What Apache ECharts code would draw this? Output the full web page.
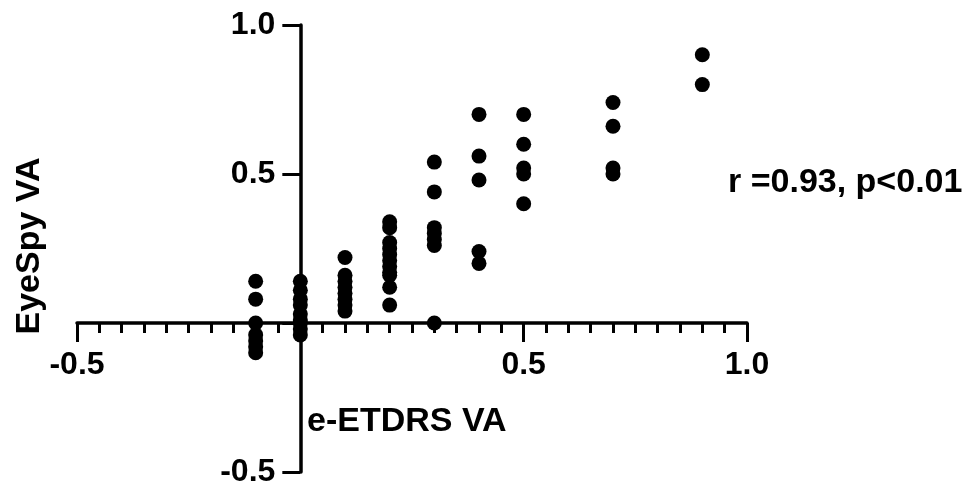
<!DOCTYPE html>
<html>
<head>
<meta charset="utf-8">
<script src="https://cdn.jsdelivr.net/npm/echarts@6/dist/echarts.min.js"></script>
<style>
html,body{margin:0;padding:0;background:#fff;}
#chart{width:972px;height:489px;}
</style>
</head>
<body>
<div id="chart"></div>
<script>
// e-ETDRS VA levels (x) and the EyeSpy VA values (y) observed at each level
var etdrsLevels = [-0.1, 0, 0.1, 0.2, 0.3, 0.4, 0.5, 0.7, 0.9];
var eyespyAtM01 = [0.14, 0.08, 0.0, -0.04, -0.06, -0.08, -0.10];
var eyespyAt00  = [0.14, 0.11, 0.08, 0.06, 0.03, 0.01, 0.0, -0.02, -0.04];
var eyespyAt01  = [0.22, 0.16, 0.14, 0.12, 0.10, 0.08, 0.06, 0.04];
var eyespyAt02  = [0.34, 0.32, 0.27, 0.25, 0.23, 0.21, 0.19, 0.17, 0.16, 0.12, 0.06];
var eyespyAt03  = [0.54, 0.44, 0.32, 0.30, 0.28, 0.26, 0.0];
var eyespyAt04  = [0.70, 0.56, 0.48, 0.24, 0.20];
var eyespyAt05  = [0.70, 0.60, 0.52, 0.50, 0.40];
var eyespyAt07  = [0.74, 0.66, 0.52, 0.50];
var eyespyAt09  = [0.90, 0.80];
var eyespyGroups = [eyespyAtM01, eyespyAt00, eyespyAt01, eyespyAt02, eyespyAt03, eyespyAt04, eyespyAt05, eyespyAt07, eyespyAt09];

var axisMin = -0.5, axisMax = 1.0, axisStep = 0.5;
var xAxisLabelText = 'e-ETDRS VA';
var yAxisLabelText = 'EyeSpy VA';
var statText = 'r =0.93, p<0.01';

var points = [];
etdrsLevels.forEach(function (x, i) {
  eyespyGroups[i].forEach(function (y) { points.push([x, y]); });
});

var FONT = "'Liberation Sans', Arial, Helvetica, sans-serif";
function tickFmt(v) {
  if (Math.abs(v) < 1e-9) return '';
  return v.toFixed(1);
}

var W = 972, H = 489;
var G = {left: 77, right: 225, top: 25, bottom: 17};
var gridW = W - G.left - G.right, gridH = H - G.top - G.bottom;
// shift the axes so they cross at zero (labels then follow the axis line)
var zeroFrac = (0 - axisMin) / (axisMax - axisMin);
var yAxisOffset = -zeroFrac * gridW;
var xAxisOffset = -zeroFrac * gridH;

var chart = echarts.init(document.getElementById('chart'), null, {renderer: 'canvas'});
chart.setOption({
  animation: false,
  backgroundColor: '#ffffff',
  grid: {left: G.left, right: G.right, top: G.top, bottom: G.bottom, containLabel: false, outerBoundsMode: 'none'},
  xAxis: {
    type: 'value', min: axisMin, max: axisMax, interval: axisStep,
    position: 'bottom', offset: xAxisOffset,
    axisLine: {show: true, onZero: false, lineStyle: {color: '#000', width: 3.5}},
    axisTick: {show: true, inside: false, length: 19, lineStyle: {color: '#000', width: 3}},
    minorTick: {show: true, splitNumber: 10, length: 10, lineStyle: {color: '#000', width: 3}},
    splitLine: {show: false}, minorSplitLine: {show: false},
    axisLabel: {show: true, margin: 26, formatter: tickFmt, color: '#000', fontFamily: FONT, fontWeight: 'bold', fontSize: 32, showMinLabel: true, showMaxLabel: true}
  },
  yAxis: {
    type: 'value', min: axisMin, max: axisMax, interval: axisStep,
    position: 'left', offset: yAxisOffset,
    axisLine: {show: true, onZero: false, lineStyle: {color: '#000', width: 3.5}},
    axisTick: {show: true, inside: false, length: 18, lineStyle: {color: '#000', width: 3}},
    splitLine: {show: false},
    axisLabel: {show: true, margin: 25, formatter: tickFmt, color: '#000', fontFamily: FONT, fontWeight: 'bold', fontSize: 32, showMinLabel: true, showMaxLabel: true}
  },
  graphic: [
    {type: 'text', x: 307, y: 422, style: {text: xAxisLabelText, fill: '#000', font: 'bold 34px ' + FONT, align: 'left', verticalAlign: 'middle'}},
    {type: 'text', x: 30, y: 246, rotation: Math.PI / 2, style: {text: yAxisLabelText, fill: '#000', font: 'bold 34px ' + FONT, align: 'center', verticalAlign: 'middle'}},
    {type: 'text', x: 728, y: 183, style: {text: statText, fill: '#000', font: 'bold 34px ' + FONT, align: 'left', verticalAlign: 'middle'}}
  ],
  series: [{
    type: 'scatter',
    data: points,
    symbol: 'circle',
    symbolSize: 15,
    itemStyle: {color: '#000', opacity: 1},
    emphasis: {disabled: true}
  }]
});
</script>
</body>
</html>
